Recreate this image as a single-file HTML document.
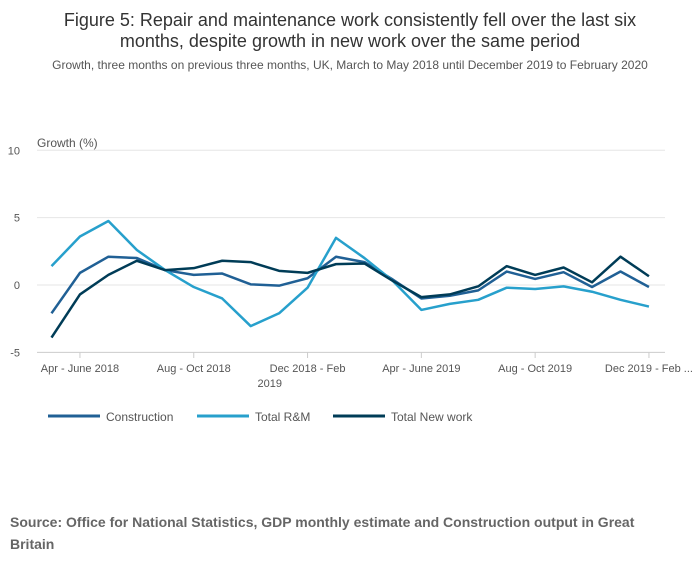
<!DOCTYPE html>
<html><head><meta charset="utf-8"><style>
body{margin:0;background:#fff;font-family:"Liberation Sans",sans-serif;}
</style></head><body>
<svg width="700" height="574" xmlns="http://www.w3.org/2000/svg" font-family="Liberation Sans, sans-serif">
<text x="350" y="26" text-anchor="middle" font-size="18" fill="#333">Figure 5: Repair and maintenance work consistently fell over the last six</text>
<text x="350" y="47" text-anchor="middle" font-size="18" fill="#333">months, despite growth in new work over the same period</text>
<text x="350" y="69" text-anchor="middle" font-size="12" fill="#555">Growth, three months on previous three months, UK, March to May 2018 until December 2019 to February 2020</text>
<text x="37" y="147" font-size="12" fill="#555">Growth (%)</text>
<g id="grid"></g><g id="xax"></g><g id="lines"></g>
<g>
<line x1="48" y1="416" x2="100" y2="416" stroke="#206095" stroke-width="3"/><text x="106" y="421" font-size="12" fill="#555">Construction</text>
<line x1="197" y1="416" x2="249" y2="416" stroke="#27a0cc" stroke-width="3"/><text x="255" y="421" font-size="12" fill="#555">Total R&amp;M</text>
<line x1="333" y1="416" x2="385" y2="416" stroke="#003c57" stroke-width="3"/><text x="391" y="421" font-size="12" fill="#555">Total New work</text>
</g>
<text x="10" y="527" font-size="14" font-weight="bold" fill="#666">Source: Office for National Statistics, GDP monthly estimate and Construction output in Great</text>
<text x="10" y="549" font-size="14" font-weight="bold" fill="#666">Britain</text>
</svg>
<script>
const construction=[-2.1,0.9,2.1,2.0,1.1,0.75,0.85,0.05,-0.05,0.5,2.1,1.7,0.4,-1.0,-0.8,-0.4,1.0,0.45,0.95,-0.15,1.0,-0.15];
const totalRM=[1.4,3.6,4.75,2.6,1.1,-0.15,-1.0,-3.05,-2.1,-0.2,3.5,2.0,0.3,-1.85,-1.4,-1.1,-0.2,-0.3,-0.1,-0.5,-1.1,-1.6];
const totalNew=[-3.9,-0.7,0.75,1.8,1.1,1.25,1.8,1.7,1.05,0.9,1.55,1.6,0.3,-0.9,-0.7,-0.1,1.4,0.75,1.3,0.2,2.1,0.65];
const yTicks=[10,5,0,-5];
const xTickIdx=[1,5,9,13,17,21];
const xTickLabels=[["Apr - June 2018"],["Aug - Oct 2018"],["Dec 2018 - Feb","2019"],["Apr - June 2019"],["Aug - Oct 2019"],["Dec 2019 - Feb ..."]];
const NS="http://www.w3.org/2000/svg";
const x=i=>51.5+i*28.45;
const y=v=>285-v*13.47;
function mk(t,a,p){const e=document.createElementNS(NS,t);for(const k in a)e.setAttribute(k,a[k]);p.appendChild(e);return e;}
const g=document.getElementById('grid');
yTicks.forEach(v=>{
 const l=mk('line',{x1:37,x2:665,y1:y(v),y2:y(v),stroke:v==-5?'#ccc':'#e6e6e6','stroke-width':1},g);
 
 
 const t=mk('text',{x:20,y:y(v)+4,'font-size':11,fill:'#555','text-anchor':'end'},g);t.textContent=v;
 
 
});
const xa=document.getElementById('xax');
xTickIdx.forEach((i,k)=>{
 mk('line',{x1:x(i),x2:x(i),y1:352,y2:358,stroke:'#ccc'},xa);
 xTickLabels[k].forEach((s,j)=>{
  const t=mk('text',{x:k==2&&j==1?x(i)-50:x(i),y:372+j*15,'font-size':11,fill:'#555','text-anchor':k==2&&j==1?'start':'middle'},xa);t.textContent=s;
  
  
 });
});
const lg=document.getElementById('lines');
[[construction,'#206095','construction-line'],[totalRM,'#27a0cc','total-rm-line'],[totalNew,'#003c57','total-new-work-line']].forEach(([d,c,n])=>{
 const p=mk('path',{d:d.map((v,i)=>(i?'L':'M')+x(i)+','+y(v)).join(''),fill:'none',stroke:c,'stroke-width':2.5,'stroke-linejoin':'round'},lg);
 
 
});
</script>
</body></html>
